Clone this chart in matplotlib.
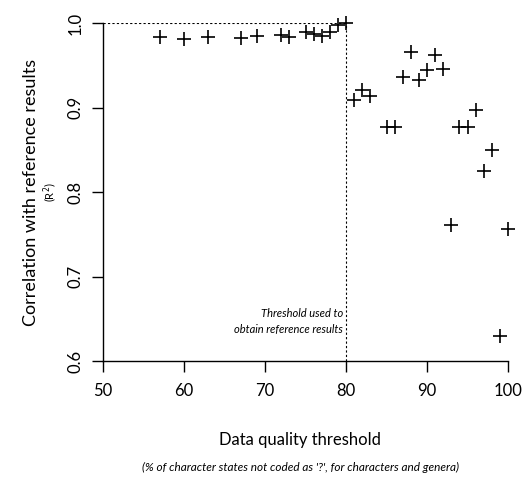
import numpy as np
import matplotlib.pyplot as plt

# data quality threshold (%) and R^2 with reference results
threshold = [57, 60, 63, 67, 69, 72, 73, 75, 76, 77, 78, 79, 80,
             81, 82, 83, 85, 86, 87, 88, 89, 90, 91, 92, 93, 94, 95,
             96, 97, 98, 99, 100]
r2 = [0.983, 0.981, 0.983, 0.982, 0.985, 0.986, 0.984, 0.989, 0.987,
      0.985, 0.989, 0.998, 1.000,
      0.909, 0.921, 0.914, 0.877, 0.877, 0.936, 0.966, 0.933, 0.944,
      0.962, 0.946, 0.761, 0.877, 0.877, 0.897, 0.825, 0.850, 0.630, 0.756]

xticks = [50, 60, 70, 80, 90, 100]
yticks = [0.6, 0.7, 0.8, 0.9, 1.0]
ref_threshold = 80

plt.rcParams['font.family'] = ['Lato', 'DejaVu Sans']

fig = plt.figure(figsize=(5.32, 4.87), dpi=100)
ax = fig.add_axes([103/532, 1 - 361/487, 405/532, 338/487])

ax.plot(threshold, r2, ls='none', marker='+', ms=10, mew=1.2, color='black',
        clip_on=False)

# reference threshold guides
ax.plot([50, ref_threshold], [1.0, 1.0], ls=(0, (2, 2)), lw=0.8, color='black')
ax.plot([ref_threshold, ref_threshold], [0.6, 1.0], ls=(0, (2, 2)), lw=0.8,
        color='black')
ax.text(ref_threshold - 0.4, 0.647, "Threshold used to\nobtain reference results",
        ha='right', va='center', fontsize=8, style='italic', linespacing=1.5)

ax.set_xlim(50, 100)
ax.set_ylim(0.6, 1.0)
ax.set_xticks(xticks)
ax.set_yticks(yticks)
ax.set_yticklabels([f"{v:.1f}" for v in yticks], rotation=90, va='center')
ax.tick_params(length=8, width=1, labelsize=12, pad=6, direction='out')
ax.tick_params(axis='x', pad=8)

for side in ['top', 'right']:
    ax.spines[side].set_visible(False)
for side in ['left', 'bottom']:
    ax.spines[side].set_linewidth(1)

fig.text(31/532, 1 - 192/487, "Correlation with reference results",
         rotation=90, ha='center', va='center', fontsize=13)
fig.text(50/532, 1 - 192/487, "(R$^2$)", rotation=90, ha='center',
         va='center', fontsize=8)
fig.text(300/532, 1 - 440/487, "Data quality threshold", ha='center',
         va='center', fontsize=12)
fig.text(300/532, 1 - 467/487,
         "(% of character states not coded as '?', for characters and genera)",
         ha='center', va='center', fontsize=8.5, style='italic')

fig.savefig('out.png', dpi=100)
